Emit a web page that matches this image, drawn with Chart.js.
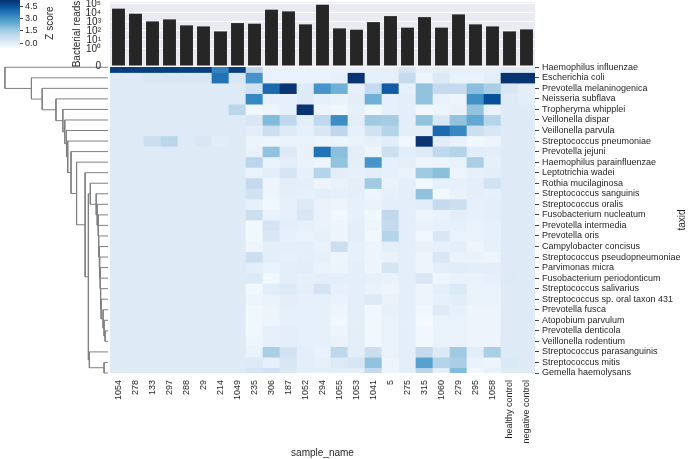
<!DOCTYPE html>
<html>
<head>
<meta charset="utf-8">
<script src="https://cdn.jsdelivr.net/npm/chart.js@4.4.1/dist/chart.umd.min.js"></script>
<style>
  html, body { margin: 0; padding: 0; background: #fff; }
  #wrap { position: relative; width: 696px; height: 459px; }
  #wrap canvas { position: absolute; left: 0; top: 0; }
</style>
</head>
<body>
<div id="wrap">
  <canvas id="dendro" width="696" height="459"></canvas>
  <canvas id="heat" width="696" height="459"></canvas>
  <canvas id="reads" width="696" height="459"></canvas>
  <canvas id="cbar" width="696" height="459"></canvas>
</div>
<script>
// columns of the heatmap (sample names), in clustered order
const sampleNames = ["1054", "278", "133", "297", "288", "29", "214", "1049", "235", "306", "187",
  "1052", "294", "1055", "1053", "1041", "5", "275", "315", "1060", "279", "295", "1058",
  "healthy control", "negative control"];

// rows of the heatmap (taxa), in clustered order
const taxa = ["Haemophilus influenzae", "Escherichia coli", "Prevotella melaninogenica",
  "Neisseria subflava", "Tropheryma whipplei", "Veillonella dispar", "Veillonella parvula",
  "Streptococcus pneumoniae", "Prevotella jejuni", "Haemophilus parainfluenzae",
  "Leptotrichia wadei", "Rothia mucilaginosa", "Streptococcus sanguinis", "Streptococcus oralis",
  "Fusobacterium nucleatum", "Prevotella intermedia", "Prevotella oris", "Campylobacter concisus",
  "Streptococcus pseudopneumoniae", "Parvimonas micra", "Fusobacterium periodonticum",
  "Streptococcus salivarius", "Streptococcus sp. oral taxon 431", "Prevotella fusca",
  "Atopobium parvulum", "Prevotella denticola", "Veillonella rodentium",
  "Streptococcus parasanguinis", "Streptococcus mitis", "Gemella haemolysans"];

// total bacterial reads per sample (top bar panel)
const bacterialReads = [29500, 8100, 1140, 1900, 410, 316, 88, 740, 630, 22800, 14700, 530,
  81000, 190, 135, 950, 4400, 230, 3400, 230, 6800, 530, 316, 88, 147];
const readTicks = [0, 1, 10, 100, 1000, 10000, 100000];
const readTickLabels = ["0", "10\u2070", "10\u00b9", "10\u00b2", "10\u00b3", "10\u2074", "10\u2075"];

// colour scale
const zMin = -0.6;
const zMax = 5.3;
const zTicks = [0, 1.5, 3, 4.5];

// z scores, one array per taxon (same order as taxa), one value per sample
const zScores = [
  [5.0, 5.0, 5.0, 5.0, 5.0, 5.0, 3.4, 5.0, 1.1, -0.2, -0.2, -0.2, -0.2, -0.2, -0.1, -0.1, -0.1, 0.4, -0.1, 0.0, -0.1, -0.1, -0.1, 0.15, 0.15],
  [0.15, 0.15, 0.3, 0.3, 0.3, 0.3, 3.8, 0.3, 3.0, -0.2, -0.2, -0.2, -0.2, -0.1, 5.2, -0.1, -0.1, 0.9, -0.3, 0.2, -0.2, -0.2, 0.0, 5.2, 5.2],
  [0.15, 0.15, 0.15, 0.15, 0.15, 0.15, 0.15, 0.15, 0.55, 4.0, 5.2, 0.15, 3.0, 2.3, -0.1, 0.9, 4.3, -0.1, 1.8, 0.9, 0.9, 1.9, 1.4, 0.3, 0.0],
  [0.15, 0.15, 0.15, 0.15, 0.15, 0.15, 0.15, 0.15, 3.3, -0.1, -0.1, 0.15, -0.1, -0.2, 0.0, 2.3, -0.1, 0.0, 1.8, -0.2, -0.3, 3.1, 4.6, 0.15, 0.0],
  [0.15, 0.15, 0.15, 0.15, 0.15, 0.15, 0.15, 1.1, -0.4, -0.3, -0.1, 5.2, -0.3, -0.4, -0.1, -0.4, -0.1, 0.0, -0.4, -0.3, -0.2, 1.8, -0.2, 0.15, 0.15],
  [0.15, 0.15, 0.15, 0.15, 0.15, 0.15, 0.15, 0.15, 0.3, 2.0, 1.0, 0.0, 1.0, 3.2, 0.0, 1.6, 1.5, 0.0, 1.8, 0.3, 1.8, 2.5, 1.2, 0.15, 0.15],
  [0.15, 0.15, 0.15, 0.15, 0.15, 0.15, 0.15, 0.15, 0.0, 0.7, 0.15, -0.1, 0.3, 1.05, -0.1, 0.55, 1.2, 0.0, 0.0, 4.0, 3.3, 0.7, 0.3, 0.15, 0.15],
  [0.15, 0.15, 0.7, 1.1, 0.15, 0.3, 0.05, 0.15, -0.25, -0.3, -0.2, -0.2, -0.3, -0.25, -0.2, -0.1, 0.05, -0.4, 5.2, 0.05, -0.2, -0.4, -0.3, 0.15, 0.15],
  [0.15, 0.15, 0.15, 0.15, 0.15, 0.15, 0.15, 0.15, -0.2, 1.8, 0.2, -0.2, 3.8, 1.9, 0.0, -0.3, 0.7, 0.05, 0.15, 1.0, 1.2, 0.05, 0.0, 0.15, 0.15],
  [0.15, 0.15, 0.15, 0.15, 0.15, 0.15, 0.15, 0.15, 1.1, -0.2, 0.0, -0.2, -0.3, 1.8, 0.0, 3.0, -0.1, 0.0, -0.3, -0.3, -0.2, 1.4, -0.1, 0.15, 0.15],
  [0.15, 0.15, 0.15, 0.15, 0.15, 0.15, 0.15, 0.15, -0.2, 0.0, 0.4, -0.1, 1.2, 0.0, -0.1, 0.0, -0.1, -0.2, 1.6, 1.9, -0.3, -0.1, 0.0, 0.15, 0.15],
  [0.15, 0.15, 0.15, 0.15, 0.15, 0.15, 0.15, 0.15, 0.9, -0.3, 0.0, 0.0, -0.3, -0.2, 0.0, 1.6, -0.2, 0.0, -0.4, -0.1, -0.1, 0.0, 0.55, 0.15, 0.15],
  [0.15, 0.15, 0.15, 0.15, 0.15, 0.15, 0.15, 0.15, 0.55, -0.3, 0.0, -0.1, 0.0, -0.1, 0.0, -0.3, -0.1, 0.0, 1.8, -0.4, -0.2, 0.0, -0.1, 0.15, 0.15],
  [0.15, 0.15, 0.15, 0.15, 0.15, 0.15, 0.15, 0.15, -0.1, -0.4, -0.1, 0.2, -0.2, -0.3, -0.1, -0.2, 0.0, 0.0, 0.05, 0.9, 0.7, -0.1, 0.0, 0.15, 0.15],
  [0.15, 0.15, 0.15, 0.15, 0.15, 0.15, 0.15, 0.15, 0.7, -0.2, -0.1, 0.3, -0.2, -0.4, -0.1, -0.4, 1.0, 0.0, -0.3, -0.2, 0.0, -0.1, 0.0, 0.15, 0.15],
  [0.15, 0.15, 0.15, 0.15, 0.15, 0.15, 0.15, 0.15, -0.4, 0.45, 0.0, -0.1, -0.2, -0.3, 0.0, -0.3, 0.9, 0.0, -0.2, -0.1, -0.1, -0.2, -0.1, 0.15, 0.15],
  [0.15, 0.15, 0.15, 0.15, 0.15, 0.15, 0.15, 0.15, -0.4, 0.3, -0.1, -0.2, -0.1, -0.3, 0.0, -0.4, 1.2, 0.0, -0.4, 0.3, -0.2, -0.2, -0.1, 0.15, 0.15],
  [0.15, 0.15, 0.15, 0.15, 0.15, 0.15, 0.15, 0.15, -0.3, 0.0, 0.0, 0.0, -0.2, 0.7, -0.1, -0.3, 0.0, 0.0, -0.2, -0.1, 0.0, -0.3, -0.1, 0.15, 0.15],
  [0.15, 0.15, 0.15, 0.15, 0.15, 0.15, 0.15, 0.15, 0.7, 0.0, -0.1, 0.0, -0.1, -0.3, -0.1, -0.3, -0.2, 0.0, -0.3, 0.3, -0.2, -0.2, -0.3, 0.15, 0.15],
  [0.15, 0.15, 0.15, 0.15, 0.15, 0.15, 0.15, 0.15, 0.0, -0.2, 0.0, 0.05, -0.2, -0.25, 0.0, -0.3, 0.4, 0.0, -0.3, 0.0, 0.05, 0.0, 0.0, 0.15, 0.15],
  [0.15, 0.15, 0.15, 0.15, 0.15, 0.15, 0.15, 0.15, 0.2, -0.4, 0.0, -0.1, 0.0, 0.0, 0.0, -0.1, -0.2, 0.0, 0.3, -0.3, -0.2, -0.2, -0.1, 0.2, 0.15],
  [0.15, 0.15, 0.15, 0.15, 0.15, 0.15, 0.15, 0.15, -0.4, 0.05, 0.2, 0.0, 0.45, -0.1, 0.0, -0.2, -0.3, 0.0, -0.3, 0.0, 0.25, -0.2, -0.2, 0.15, 0.15],
  [0.15, 0.15, 0.15, 0.15, 0.15, 0.15, 0.15, 0.15, -0.3, -0.2, 0.0, -0.1, -0.1, -0.2, 0.0, 0.2, -0.2, 0.0, -0.3, -0.1, 0.05, -0.2, -0.2, 0.15, 0.15],
  [0.15, 0.15, 0.15, 0.15, 0.15, 0.15, 0.15, 0.15, -0.4, -0.3, -0.1, -0.1, -0.1, -0.3, 0.0, -0.4, -0.1, 0.0, -0.4, 0.15, -0.1, -0.3, -0.3, 0.15, 0.15],
  [0.15, 0.15, 0.15, 0.15, 0.15, 0.15, 0.15, 0.15, -0.4, -0.3, -0.1, -0.1, -0.1, -0.4, 0.0, -0.4, -0.2, 0.0, -0.5, -0.2, -0.2, -0.3, -0.3, 0.15, 0.15],
  [0.15, 0.15, 0.15, 0.15, 0.15, 0.15, 0.15, 0.15, -0.4, -0.1, 0.0, -0.1, -0.1, -0.3, 0.0, -0.4, -0.2, 0.0, -0.4, -0.2, -0.2, -0.3, -0.3, 0.15, 0.15],
  [0.15, 0.15, 0.15, 0.15, 0.15, 0.15, 0.15, 0.15, -0.3, -0.1, 0.0, -0.1, -0.1, -0.2, 0.0, -0.4, -0.2, 0.0, -0.4, -0.2, -0.2, -0.3, -0.3, 0.15, 0.15],
  [0.15, 0.15, 0.15, 0.15, 0.15, 0.15, 0.15, 0.15, -0.2, 1.4, 0.55, 0.0, -0.2, 1.05, 0.0, 0.75, -0.2, 0.0, 0.9, 0.2, 1.6, 0.05, 1.4, 0.15, 0.15],
  [0.15, 0.15, 0.15, 0.15, 0.15, 0.15, 0.15, 0.15, 0.2, -0.1, 0.3, 0.0, -0.1, 0.2, 0.35, 1.8, -0.3, 0.0, 2.7, 1.2, 1.4, -0.2, -0.3, 0.25, 0.15],
  [0.15, 0.15, 0.15, 0.15, 0.15, 0.15, 0.15, 0.15, 0.4, 0.6, 0.2, 0.0, 0.0, 0.0, 0.0, 0.9, -0.3, 0.0, 1.1, 0.0, 2.0, -0.4, -0.2, 0.15, 0.15]
];

// row linkage, scipy style: [child a, child b, distance]; ids 0-29 are taxa, 30+ are merges
const dendroMerges = [
  [25, 26, 0.6], [24, 30, 0.8], [23, 31, 1.0], [22, 32, 1.4], [21, 33, 1.5],
  [20, 34, 1.56], [19, 35, 1.6], [18, 36, 1.7], [17, 37, 1.8], [16, 38, 1.9],
  [15, 39, 1.96], [14, 40, 2.0], [13, 41, 2.2], [12, 42, 2.4], [11, 43, 3.6],
  [28, 29, 0.8], [27, 45, 3.8], [44, 46, 4.0], [10, 47, 4.66], [9, 48, 6.4],
  [8, 49, 7.54], [7, 50, 8.2], [6, 51, 8.46], [5, 52, 8.8], [4, 53, 9.2],
  [3, 54, 10.6], [2, 55, 13.4], [1, 56, 15.6], [0, 57, 21.0]
];

Chart.defaults.font.family = '"Liberation Sans", Arial, sans-serif';
Chart.defaults.color = "#262626";
Chart.defaults.animation = false;
Chart.defaults.plugins.legend.display = false;
Chart.defaults.plugins.tooltip.enabled = false;

// matplotlib "Blues"
const bluesStops = [[247, 251, 255], [222, 235, 247], [198, 219, 239], [158, 202, 225],
  [107, 174, 214], [66, 146, 198], [33, 113, 181], [8, 81, 156], [8, 48, 107]];

function blues(z) {
  let f = (z - zMin) / (zMax - zMin);
  f = Math.max(0, Math.min(1, f));
  const p = f * 8;
  const i = Math.min(7, Math.floor(p));
  const t = p - i;
  const a = bluesStops[i], b = bluesStops[i + 1];
  const c = a.map((v, k) => Math.round(v + (b[k] - v) * t));
  return "rgb(" + c.join(",") + ")";
}

// the read counts axis is log-like with a linear piece down to zero
function symlog(v) {
  return v > 0 ? 1.9 + Math.log10(v) : 0;
}

// keep the plot areas exactly where the panels sit, whatever the tick labels need
function noEdgePadding(s) {
  s.paddingTop = 0;
  s.paddingBottom = 0;
}

// fills the plot area (seaborn darkgrid look)
const panelBg = {
  id: "panelBg",
  beforeDraw(chart, args, opts) {
    if (!opts.color) return;
    const a = chart.chartArea;
    chart.ctx.save();
    chart.ctx.fillStyle = opts.color;
    chart.ctx.fillRect(a.left, a.top, a.width, a.height);
    chart.ctx.restore();
  }
};

// rotated label read bottom-to-top, like matplotlib puts it on right-hand axes
const sideTitle = {
  id: "sideTitle",
  afterDraw(chart, args, opts) {
    if (!opts.text) return;
    const ctx = chart.ctx;
    ctx.save();
    ctx.translate(opts.x, opts.y);
    ctx.rotate(-Math.PI / 2);
    ctx.font = opts.font;
    ctx.fillStyle = "#262626";
    ctx.textAlign = "center";
    ctx.textBaseline = "middle";
    ctx.fillText(opts.text, 0, 0);
    ctx.restore();
  }
};

// ---- dendrogram ----
const leafPos = {};
const nodeDist = {};
taxa.forEach((t, i) => { leafPos[i] = i + 0.5; nodeDist[i] = 0; });
const dendroSegments = dendroMerges.map(([a, b, d], k) => {
  const id = taxa.length + k;
  leafPos[id] = (leafPos[a] + leafPos[b]) / 2;
  nodeDist[id] = d;
  return [
    { x: nodeDist[a], y: leafPos[a] },
    { x: d, y: leafPos[a] },
    { x: d, y: leafPos[b] },
    { x: nodeDist[b], y: leafPos[b] }
  ];
});

new Chart(document.getElementById("dendro"), {
  type: "scatter",
  data: {
    datasets: dendroSegments.map(seg => ({
      data: seg,
      showLine: true,
      borderColor: "#808080",
      borderWidth: 1,
      pointRadius: 0,
      tension: 0,
      clip: false
    }))
  },
  options: {
    responsive: false,
    layout: { padding: { left: 0, right: 588, top: 66, bottom: 86 } },
    scales: {
      x: { type: "linear", reverse: true, min: 0, max: 22, display: false },
      y: { type: "linear", reverse: true, min: 0.38, max: 29.5, display: false }
    }
  }
});

// ---- heatmap (stacked unit bars, one dataset per taxon) ----
new Chart(document.getElementById("heat"), {
  type: "bar",
  data: {
    labels: sampleNames,
    datasets: taxa.map((name, r) => ({
      label: name,
      data: sampleNames.map(() => 1),
      backgroundColor: zScores[r].map(blues),
      borderWidth: 0,
      barPercentage: 1,
      categoryPercentage: 1
    }))
  },
  options: {
    responsive: false,
    layout: { padding: { left: 110, right: 0, top: 66, bottom: 0 } },
    scales: {
      x: {
        stacked: true,
        grid: { display: false, drawTicks: false },
        border: { display: false },
        ticks: { autoSkip: false, minRotation: 90, maxRotation: 90, padding: 7, font: { size: 9 } },
        title: { display: true, text: "sample_name", padding: 0, font: { size: 10 } },
        afterFit(s) { s.height = 86; }
      },
      y: {
        type: "linear",
        position: "right",
        stacked: true,
        reverse: true,
        min: 0.38,
        max: 29.5,
        afterBuildTicks(s) { s.ticks = taxa.map((t, i) => ({ value: i + 0.5 })); },
        ticks: {
          autoSkip: false,
          padding: 3,
          font: { size: 9 },
          callback: v => taxa[Math.round(v - 0.5)]
        },
        grid: { drawOnChartArea: false, drawTicks: true, tickLength: 4, tickColor: "#444" },
        border: { display: false },
        afterFit(s) { s.width = 161; noEdgePadding(s); }
      }
    },
    plugins: {
      sideTitle: { text: "taxid", x: 682, y: 220, font: '10px "Liberation Sans", Arial, sans-serif' }
    }
  },
  plugins: [sideTitle]
});

// ---- bacterial reads bar panel ----
new Chart(document.getElementById("reads"), {
  type: "bar",
  data: {
    labels: sampleNames,
    datasets: [{
      data: bacterialReads.map(symlog),
      backgroundColor: "#262626",
      barPercentage: 0.76,
      categoryPercentage: 1
    }]
  },
  options: {
    responsive: false,
    layout: { padding: { left: 0, right: 161, top: 2, bottom: 393 } },
    scales: {
      x: { display: false },
      y: {
        min: 0,
        max: 64 / 9,
        afterBuildTicks(s) { s.ticks = readTicks.map(v => ({ value: symlog(v) })); },
        ticks: { autoSkip: false, padding: 9, font: { size: 10 }, callback: (v, i) => readTickLabels[i] },
        grid: { color: "#ffffff", lineWidth: 1, drawTicks: false },
        border: { display: false },
        title: { display: true, text: "Bacterial reads", padding: { top: 71, bottom: 0 }, font: { size: 10 } },
        afterFit(s) { s.width = 110; noEdgePadding(s); }
      }
    },
    plugins: { panelBg: { color: "#eaeaf2" } }
  },
  plugins: [panelBg]
});

// ---- colour bar ----
new Chart(document.getElementById("cbar"), {
  type: "bar",
  data: {
    labels: [""],
    datasets: [{
      data: [[zMin, zMax]],
      barPercentage: 1,
      categoryPercentage: 1,
      borderWidth: 0,
      backgroundColor(c) {
        const a = c.chart.chartArea;
        if (!a) return blues(zMax);
        const g = c.chart.ctx.createLinearGradient(0, a.bottom, 0, a.top);
        bluesStops.forEach((s, i) => g.addColorStop(i / 8, "rgb(" + s.join(",") + ")"));
        return g;
      }
    }]
  },
  options: {
    responsive: false,
    layout: { padding: { left: 0, right: 0, top: 0, bottom: 411 } },
    scales: {
      x: { display: false },
      y: {
        position: "right",
        min: zMin,
        max: zMax,
        afterBuildTicks(s) { s.ticks = zTicks.map(v => ({ value: v })); },
        ticks: { autoSkip: false, padding: 2, font: { size: 9 }, callback: v => v.toFixed(1) },
        grid: { drawOnChartArea: false, drawTicks: true, tickLength: 3, tickColor: "#444" },
        border: { display: false },
        afterFit(s) { s.width = 676; noEdgePadding(s); }
      }
    },
    plugins: {
      sideTitle: { text: "Z score", x: 50, y: 23, font: '10px "Liberation Sans", Arial, sans-serif' }
    }
  },
  plugins: [sideTitle]
});
</script>
</body>
</html>
